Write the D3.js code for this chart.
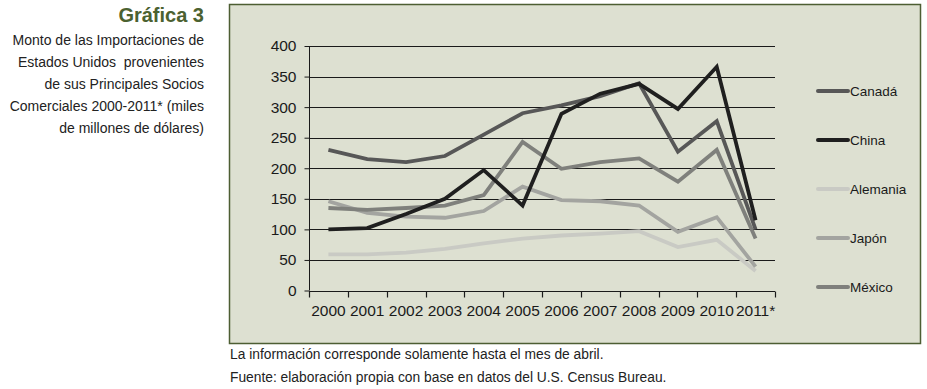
<!DOCTYPE html>
<html>
<head>
<meta charset="utf-8">
<script src="https://cdn.jsdelivr.net/npm/d3@7"></script>
<style>
  body { margin: 0; background: #fff; }
  svg { font-family: "Liberation Sans", Arial, sans-serif; }
</style>
</head>
<body>
<svg id="chart" width="927" height="389"></svg>
<script>
const years = ["2000", "2001", "2002", "2003", "2004", "2005", "2006", "2007", "2008", "2009", "2010", "2011*"];
const canada   = [230, 215, 210, 220, 255, 290, 303, 318, 339, 227, 277, 100];
const china    = [100, 102, 125, 150, 197, 139, 289, 322, 338, 297, 366, 115];
const alemania = [59, 59, 62, 68, 77, 85, 90, 93, 97, 71, 83, 32];
const japon    = [146, 127, 121, 119, 130, 170, 148, 146, 139, 96, 120, 39];
const mexico   = [135, 132, 135, 139, 156, 243, 199, 210, 216, 178, 230, 85];
const yTicks = [0, 50, 100, 150, 200, 250, 300, 350, 400];

const series = [
  { name: "Canadá", values: canada, color: "#575757" },
  { name: "China", values: china, color: "#1f1f1f" },
  { name: "Alemania", values: alemania, color: "#c9cac4" },
  { name: "Japón", values: japon, color: "#a3a4a0" },
  { name: "México", values: mexico, color: "#7f807c" }
];
// drawing order (China on top)
const drawOrder = ["Alemania", "Japón", "México", "Canadá", "China"];

const svg = d3.select("#chart");

// title block on the left
svg.append("text")
  .attr("x", 204).attr("y", 22)
  .attr("text-anchor", "end")
  .attr("font-size", 20).attr("font-weight", "bold")
  .attr("fill", "#4b6130")
  .text("Gráfica 3");

const subtitle = [
  "Monto de las Importaciones de",
  "Estados Unidos  provenientes",
  "de sus Principales Socios",
  "Comerciales 2000-2011* (miles",
  "de millones de dólares)"
];
svg.append("g").selectAll("text")
  .data(subtitle)
  .join("text")
  .attr("x", 204)
  .attr("y", (d, i) => 45 + i * 22)
  .attr("text-anchor", "end")
  .attr("font-size", 14)
  .attr("fill", "#222")
  .attr("xml:space", "preserve")
  .text(d => d);

// panel
svg.append("rect")
  .attr("x", 229.5).attr("y", 4.5)
  .attr("width", 691).attr("height", 339)
  .attr("fill", "#dde0d1")
  .attr("stroke", "#4d5e33")
  .attr("stroke-width", 1.5);

const plot = { left: 309, right: 775, top: 46, bottom: 290.5 };

const x = d3.scaleBand()
  .domain(years)
  .range([plot.left, plot.right]);

const y = d3.scaleLinear()
  .domain([0, 400])
  .range([plot.bottom, plot.top]);

// gridlines
svg.append("g")
  .selectAll("line")
  .data(yTicks)
  .join("line")
  .attr("x1", plot.left).attr("x2", plot.right)
  .attr("y1", d => Math.round(y(d)) + 0.5)
  .attr("y2", d => Math.round(y(d)) + 0.5)
  .attr("stroke", "#1a1a1a")
  .attr("stroke-width", 1.2);

// y axis
const yAxis = svg.append("g")
  .attr("transform", `translate(${plot.left + 0.5},0)`)
  .call(d3.axisLeft(y).tickValues(yTicks).tickSize(5).tickPadding(8));
yAxis.select(".domain").attr("stroke", "#1a1a1a").attr("d", `M0,${plot.top}V${plot.bottom}`);
yAxis.selectAll(".tick line").attr("stroke", "#1a1a1a");
yAxis.selectAll("text")
  .attr("font-family", "Liberation Sans, Arial, sans-serif")
  .attr("font-size", 15.5).attr("fill", "#1a1a1a");

// x axis: ticks at band edges, labels at band centres
const xAxisG = svg.append("g")
  .attr("transform", `translate(0,${Math.round(y(0)) + 0.5})`);
const edges = years.map(d => x(d)).concat([plot.right]);
xAxisG.selectAll("line")
  .data(edges)
  .join("line")
  .attr("x1", d => Math.round(d) + 0.5).attr("x2", d => Math.round(d) + 0.5)
  .attr("y1", 0).attr("y2", 6)
  .attr("stroke", "#1a1a1a")
  .attr("stroke-width", 1.2);
xAxisG.selectAll("text")
  .data(years)
  .join("text")
  .attr("x", d => x(d) + x.bandwidth() / 2)
  .attr("y", 24)
  .attr("text-anchor", "middle")
  .attr("font-size", 15.5)
  .attr("fill", "#1a1a1a")
  .text(d => d);

// lines
const line = d3.line()
  .x((d, i) => x(years[i]) + x.bandwidth() / 2)
  .y(d => y(d));

const byName = Object.fromEntries(series.map(s => [s.name, s]));
svg.append("g")
  .selectAll("path")
  .data(drawOrder.map(n => byName[n]))
  .join("path")
  .attr("d", d => line(d.values))
  .attr("fill", "none")
  .attr("stroke", d => d.color)
  .attr("stroke-width", 3.8)
  .attr("stroke-linejoin", "miter");

// legend
const legend = svg.append("g")
  .selectAll("g")
  .data(series)
  .join("g")
  .attr("transform", (d, i) => `translate(818,${91 + i * 49})`);
legend.append("line")
  .attr("x1", 0).attr("x2", 30)
  .attr("stroke", d => d.color)
  .attr("stroke-width", 4)
  .attr("stroke-linecap", "round");
legend.append("text")
  .attr("x", 32).attr("y", 5)
  .attr("font-size", 13.5)
  .attr("fill", "#1a1a1a")
  .text(d => d.name);

// footnotes
svg.append("text")
  .attr("x", 230).attr("y", 359)
  .attr("font-size", 13.8).attr("fill", "#222")
  .text("La información corresponde solamente hasta el mes de abril.");
svg.append("text")
  .attr("x", 230).attr("y", 382)
  .attr("font-size", 13.8).attr("fill", "#222")
  .text("Fuente: elaboración propia con base en datos del U.S. Census Bureau.");
</script>
</body>
</html>
